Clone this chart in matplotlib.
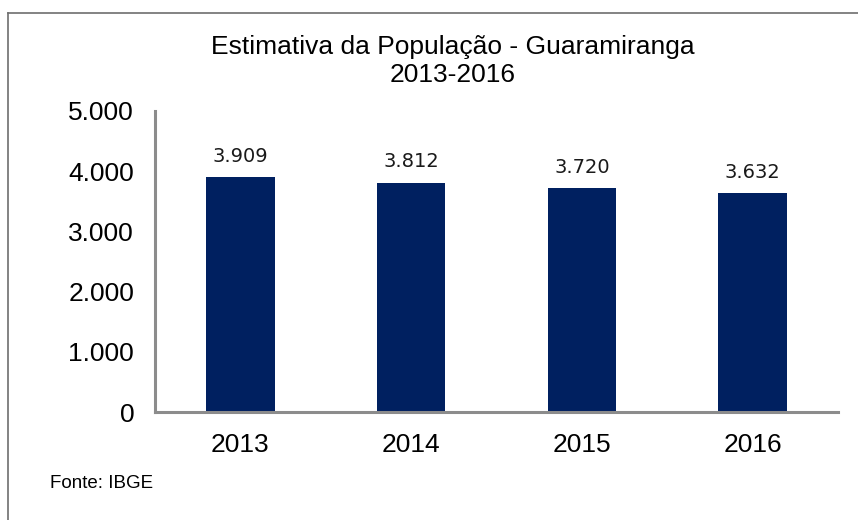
import matplotlib.pyplot as plt
from matplotlib.lines import Line2D

# data
anos = ['2013', '2014', '2015', '2016']
populacao = [3909, 3812, 3720, 3632]
y_ticks = [0, 1000, 2000, 3000, 4000, 5000]

plt.rcParams['font.family'] = ['Liberation Sans', 'DejaVu Sans']

fig = plt.figure(figsize=(8.58, 5.2), dpi=100, facecolor='white')
ax = fig.add_axes([155/858, 1-412/520, (838-155)/858, (412-111)/520])

bars = ax.bar(anos, populacao, width=0.4, color='#002060')

for b, v in zip(bars, populacao):
    ax.annotate(f'{v:,}'.replace(',', '.'), (b.get_x() + b.get_width()/2, v),
                xytext=(0, 8), textcoords='offset points', ha='center', va='bottom',
                fontsize=14, family='DejaVu Sans', color='#1a1a1a')

ax.set_ylim(0, 5000)
ax.set_xlim(-0.5, 3.5)
ax.set_yticks(y_ticks)
ax.set_yticklabels([f'{t:,}'.replace(',', '.') for t in y_ticks], fontsize=19)
ax.tick_params(axis='y', length=0, pad=15)
ax.tick_params(axis='x', length=0, pad=15, labelsize=19)

for s in ['top', 'right']:
    ax.spines[s].set_visible(False)
for s in ['left', 'bottom']:
    ax.spines[s].set_color('#8c8c8c')
    ax.spines[s].set_linewidth(2.2)

fig.text(453/858, 1-47/520, 'Estimativa da População - Guaramiranga',
         ha='center', va='center', fontsize=19)
fig.text(453/858, 1-75/520, '2013-2016', ha='center', va='center', fontsize=19)

fig.text(50/858, 1-483/520, 'Fonte: IBGE', ha='left', va='center', fontsize=13.5)

# moldura (só topo e esquerda aparecem no recorte)
fig.add_artist(Line2D([8/858, 8/858], [0, 1-13/520], color='#6e6e6e', lw=1.2,
                      transform=fig.transFigure))
fig.add_artist(Line2D([8/858, 1], [1-13/520, 1-13/520], color='#6e6e6e', lw=1.2,
                      transform=fig.transFigure))

fig.savefig('out.png', dpi=100)
